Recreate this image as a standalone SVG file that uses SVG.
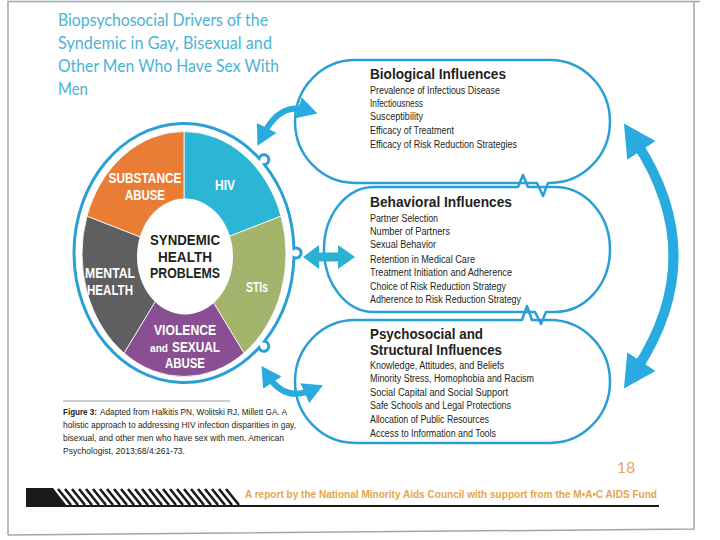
<svg xmlns="http://www.w3.org/2000/svg" width="720" height="540" viewBox="0 0 720 540">
<style>
.title{font-family:Lato,"Open Sans","Liberation Sans",sans-serif;font-size:17.5px;fill:#4ab4d4}
.seg{font-family:"Liberation Sans",Arial,sans-serif;font-weight:bold;font-size:14px;fill:#ffffff;text-anchor:middle}
.ctr{font-family:"Liberation Sans",Arial,sans-serif;font-weight:bold;font-size:14px;fill:#231f20;text-anchor:middle}
.bh{font-family:"Liberation Sans",Arial,sans-serif;font-weight:bold;font-size:14px;fill:#231f20}
.bi{font-family:"Liberation Sans",Arial,sans-serif;font-size:10px;fill:#231f20}
.cap{font-family:"Liberation Sans",Arial,sans-serif;font-size:9px;fill:#231f20}
.box{fill:none;stroke:#2a9fd6;stroke-width:2.5;stroke-linejoin:round}
.arr{fill:none;stroke:#29abe2}
</style>
<defs>
<marker id="hs" viewBox="0 0 20 22" refX="8" refY="11" markerWidth="20" markerHeight="22" markerUnits="userSpaceOnUse" orient="auto-start-reverse"><path d="M0,0 L20,11 L0,22 Z" fill="#29abe2"/></marker>
<marker id="hb" viewBox="0 0 32 34" refX="10" refY="17" markerWidth="32" markerHeight="34" markerUnits="userSpaceOnUse" orient="auto-start-reverse"><path d="M0,0 L32,17 L0,34 Z" fill="#29abe2"/></marker>
</defs>
<rect width="720" height="540" fill="#ffffff"/>
<g id="frame" fill="none" stroke="#9aa8b5" stroke-width="1.5">
<path d="M8,535 L8,1.5 L700,1.5"/>
<path d="M8,535 L694,529 L694,1.5"/>
</g>
<g id="title">
<text class="title" x="58" y="26" textLength="210" lengthAdjust="spacingAndGlyphs">Biopsychosocial Drivers of the</text>
<text class="title" x="58" y="49" textLength="214" lengthAdjust="spacingAndGlyphs">Syndemic in Gay, Bisexual and</text>
<text class="title" x="58" y="72" textLength="221" lengthAdjust="spacingAndGlyphs">Other Men Who Have Sex With</text>
<text class="title" x="58" y="95" textLength="30" lengthAdjust="spacingAndGlyphs">Men</text>
</g>
<g id="syndemic-circle">
<path d="M264.45,164.68 A110,129.5 0 0 1 293.93,248.48 A5,5 0 1 1 293.93,257.52 A110,129.5 0 0 1 264.45,341.32 A5,5 0 1 1 259.02,347.72 A110,129.5 0 1 1 259.02,158.28 A5,5 0 1 1 264.45,164.68 Z" fill="#ffffff" stroke="#2a9fd6" stroke-width="3"/>
<g stroke="#ffffff" stroke-width="0.8">
<path d="M184,254 L184,131.5 A102,122.5 0 0 1 281.01,216.15 Z" fill="#2cb6d5"/>
<path d="M184,254 L281.01,216.15 A102,122.5 0 0 1 243.96,353.1 Z" fill="#a4b46c"/>
<path d="M184,254 L243.96,353.1 A102,122.5 0 0 1 124.04,353.1 Z" fill="#8a4f93"/>
<path d="M184,254 L124.04,353.1 A102,122.5 0 0 1 86.99,216.15 Z" fill="#5f5f61"/>
<path d="M184,254 L86.99,216.15 A102,122.5 0 0 1 184,131.5 Z" fill="#ea7d36"/>
</g>
<ellipse cx="185" cy="256.5" rx="48" ry="58" fill="#ffffff"/>
<text class="seg" x="145" y="183" textLength="73" lengthAdjust="spacingAndGlyphs">SUBSTANCE</text>
<text class="seg" x="145" y="200" textLength="40" lengthAdjust="spacingAndGlyphs">ABUSE</text>
<text class="seg" x="225" y="190" textLength="20" lengthAdjust="spacingAndGlyphs">HIV</text>
<text class="seg" x="257" y="292" textLength="22" lengthAdjust="spacingAndGlyphs">STIs</text>
<text class="seg" x="110" y="278" textLength="50" lengthAdjust="spacingAndGlyphs">MENTAL</text>
<text class="seg" x="110" y="295" textLength="46" lengthAdjust="spacingAndGlyphs">HEALTH</text>
<text class="seg" x="185" y="335" textLength="62" lengthAdjust="spacingAndGlyphs">VIOLENCE</text>
<text class="seg" x="159" y="352" style="font-size:10px" textLength="18" lengthAdjust="spacingAndGlyphs">and</text>
<text class="seg" x="196" y="352" textLength="48" lengthAdjust="spacingAndGlyphs">SEXUAL</text>
<text class="seg" x="185" y="368" textLength="40" lengthAdjust="spacingAndGlyphs">ABUSE</text>
<text class="ctr" x="185" y="245" textLength="70" lengthAdjust="spacingAndGlyphs">SYNDEMIC</text>
<text class="ctr" x="185" y="262" textLength="54" lengthAdjust="spacingAndGlyphs">HEALTH</text>
<text class="ctr" x="185" y="278" textLength="70" lengthAdjust="spacingAndGlyphs">PROBLEMS</text>
</g>
<g id="biological">
<path class="box" d="M355,60 H550 A60,61.5 0 0 1 550,183 H548 L543,196 L537,183 H355 A60,61.5 0 0 1 355,60 Z"/>
<text class="bh" x="370" y="79" textLength="136" lengthAdjust="spacingAndGlyphs">Biological Influences</text>
<text class="bi" x="370" y="94" textLength="130" lengthAdjust="spacingAndGlyphs">Prevalence of Infectious Disease</text>
<text class="bi" x="370" y="107" textLength="53" lengthAdjust="spacingAndGlyphs">Infectiousness</text>
<text class="bi" x="370" y="120" textLength="53" lengthAdjust="spacingAndGlyphs">Susceptibility</text>
<text class="bi" x="370" y="134" textLength="84" lengthAdjust="spacingAndGlyphs">Efficacy of Treatment</text>
<text class="bi" x="370" y="148" textLength="147" lengthAdjust="spacingAndGlyphs">Efficacy of Risk Reduction Strategies</text>
</g>
<g id="behavioral">
<path class="box" d="M374,187 H518 L523,175 L528,187 H555 A55,62.5 0 0 1 555,312 H546 L541,324 L535,312 H374 A50,62.5 0 0 1 374,187 Z"/>
<text class="bh" x="370" y="207" textLength="142" lengthAdjust="spacingAndGlyphs">Behavioral Influences</text>
<text class="bi" x="370" y="222" textLength="68" lengthAdjust="spacingAndGlyphs">Partner Selection</text>
<text class="bi" x="370" y="235" textLength="80" lengthAdjust="spacingAndGlyphs">Number of Partners</text>
<text class="bi" x="370" y="248" textLength="66" lengthAdjust="spacingAndGlyphs">Sexual Behavior</text>
<text class="bi" x="370" y="263" textLength="105" lengthAdjust="spacingAndGlyphs">Retention in Medical Care</text>
<text class="bi" x="370" y="276" textLength="142" lengthAdjust="spacingAndGlyphs">Treatment Initiation and Adherence</text>
<text class="bi" x="370" y="290" textLength="136" lengthAdjust="spacingAndGlyphs">Choice of Risk Reduction Strategy</text>
<text class="bi" x="370" y="303" textLength="151" lengthAdjust="spacingAndGlyphs">Adherence to Risk Reduction Strategy</text>
</g>
<g id="psychosocial">
<path class="box" d="M355,320 H522 L527,306 L532,320 H550 A60,61.5 0 0 1 550,443 H355 A60,61.5 0 0 1 355,320 Z"/>
<text class="bh" x="370" y="339" textLength="113" lengthAdjust="spacingAndGlyphs">Psychosocial and</text>
<text class="bh" x="370" y="355" textLength="132" lengthAdjust="spacingAndGlyphs">Structural Influences</text>
<text class="bi" x="370" y="369" textLength="134" lengthAdjust="spacingAndGlyphs">Knowledge, Attitudes, and Beliefs</text>
<text class="bi" x="370" y="382" textLength="164" lengthAdjust="spacingAndGlyphs">Minority Stress, Homophobia and Racism</text>
<text class="bi" x="370" y="396" textLength="138" lengthAdjust="spacingAndGlyphs">Social Capital and Social Support</text>
<text class="bi" x="370" y="409" textLength="141" lengthAdjust="spacingAndGlyphs">Safe Schools and Legal Protections</text>
<text class="bi" x="370" y="423" textLength="119" lengthAdjust="spacingAndGlyphs">Allocation of Public Resources</text>
<text class="bi" x="370" y="437" textLength="126" lengthAdjust="spacingAndGlyphs">Access to Information and Tools</text>
</g>
<g id="connectors">
<path class="arr" stroke-width="6" d="M263,135 Q280,102 306,110" marker-start="url(#hs)" marker-end="url(#hs)"/>
<polygon points="303,257 319,245 319,252.5 338,252.5 338,245 355,257 338,269 338,261.5 319,261.5 319,269" fill="#2bb1d1"/>
<path class="arr" stroke-width="6" d="M268,376 Q285,402 312,390" marker-start="url(#hs)" marker-end="url(#hs)"/>
<path class="arr" stroke-width="10" d="M636,142 Q711,256 636,370" marker-start="url(#hb)" marker-end="url(#hb)"/>
</g>
<g id="caption">
<line x1="63" y1="401" x2="230" y2="401" stroke="#bdbdbd" stroke-width="1.5"/>
<text class="cap" x="63" y="415" font-weight="bold" textLength="34" lengthAdjust="spacingAndGlyphs">Figure 3:</text>
<text class="cap" x="100" y="415" textLength="187" lengthAdjust="spacingAndGlyphs">Adapted from Halkitis PN, Wolitski RJ, Millett GA.  A</text>
<text class="cap" x="63" y="428" textLength="233" lengthAdjust="spacingAndGlyphs">holistic approach to addressing HIV infection disparities in gay,</text>
<text class="cap" x="63" y="441" textLength="221" lengthAdjust="spacingAndGlyphs">bisexual, and other men who have sex with men.  American</text>
<text class="cap" x="63" y="454" textLength="122" lengthAdjust="spacingAndGlyphs">Psychologist, 2013;68/4:261-73.</text>
</g>
<g id="footer">
<text x="626" y="473" text-anchor="middle" font-family="Lato,'Liberation Sans',sans-serif" font-size="16" fill="#e8a860">18</text>
<polygon points="26,488 53,488 67,506 26,506" fill="#1a1a1a"/>
<path d="M58,489 l13,16 M65,489 l13,16 M72,489 l13,16 M79,489 l13,16 M86,489 l13,16 M93,489 l13,16 M100,489 l13,16 M107,489 l13,16 M114,489 l13,16 M121,489 l13,16 M128,489 l13,16 M135,489 l13,16 M142,489 l13,16 M149,489 l13,16 M156,489 l13,16 M163,489 l13,16 M170,489 l13,16 M177,489 l13,16 M184,489 l13,16 M191,489 l13,16 M198,489 l13,16 M205,489 l13,16 M212,489 l13,16 M219,489 l13,16 M226,489 l13,16" stroke="#1a1a1a" stroke-width="2.6"/>
<line x1="26" y1="506" x2="659" y2="506" stroke="#1a1a1a" stroke-width="2"/>
<text x="245" y="498" font-family="'Liberation Sans',Arial,sans-serif" font-weight="bold" font-size="11.5" fill="#e6a54a" textLength="412" lengthAdjust="spacingAndGlyphs">A report by the National Minority Aids Council with support from the M•A•C AIDS Fund</text>
</g>
</svg>
